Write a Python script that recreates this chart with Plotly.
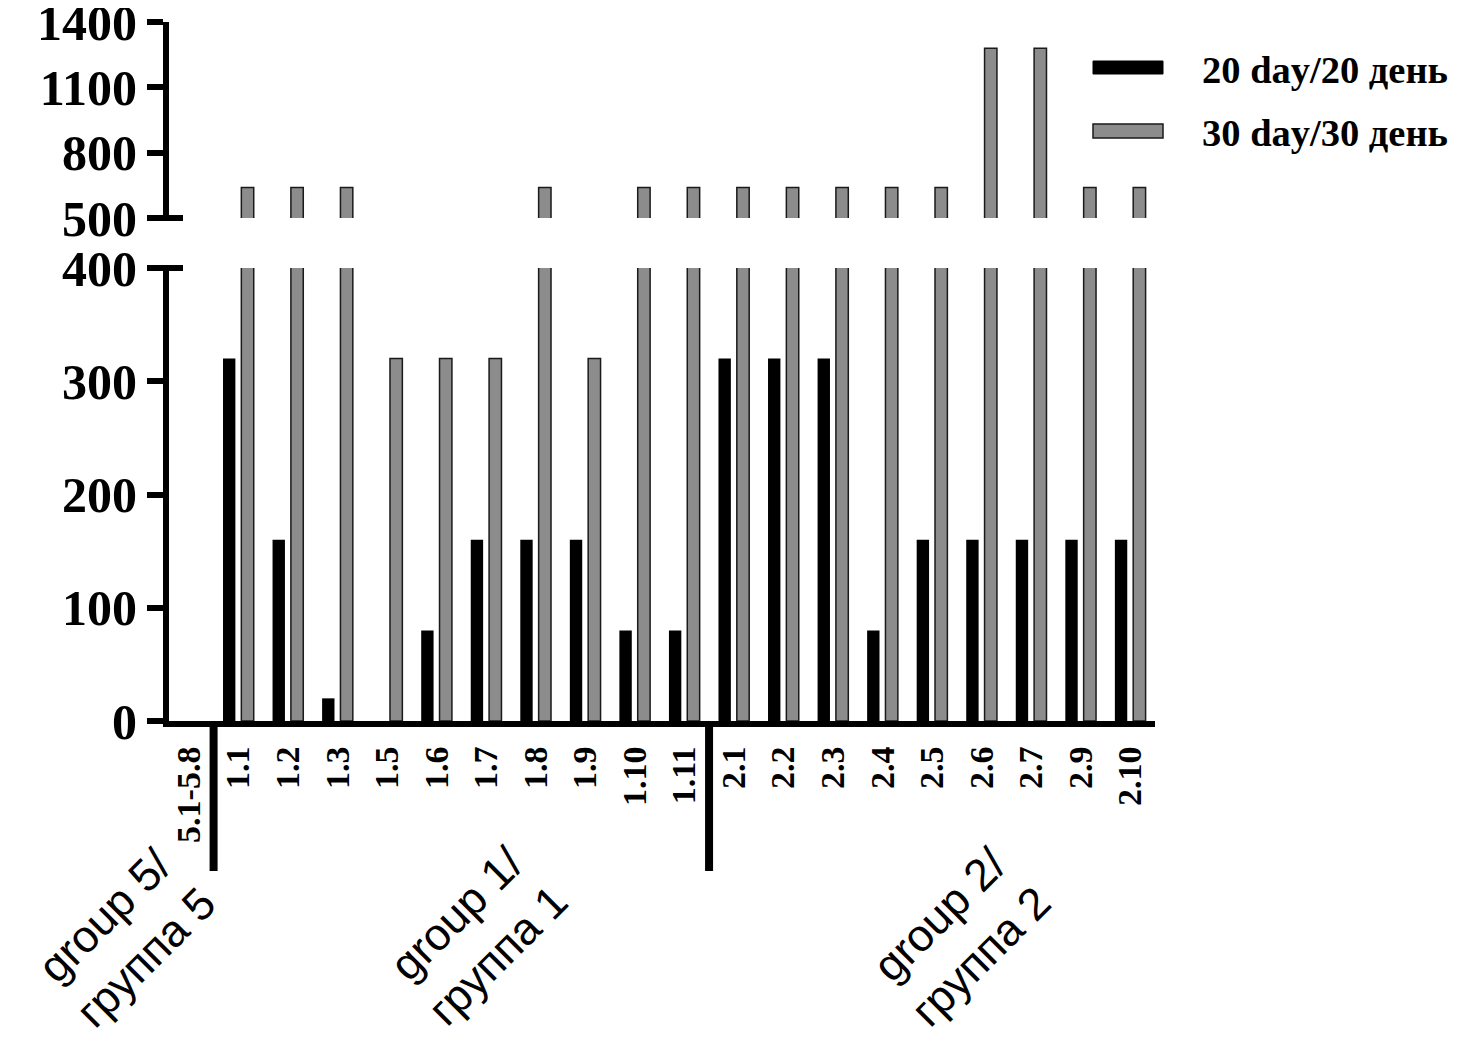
import plotly.graph_objects as go

# ---- data ----
categories = ["5.1-5.8", "1.1", "1.2", "1.3", "1.5", "1.6", "1.7", "1.8", "1.9", "1.10", "1.11",
              "2.1", "2.2", "2.3", "2.4", "2.5", "2.6", "2.7", "2.9", "2.10"]
day20 = [0, 320, 160, 20, 0, 80, 160, 160, 160, 80, 80, 320, 320, 320, 80, 160, 160, 160, 160, 160]
day30 = [0, 640, 640, 640, 320, 320, 320, 640, 320, 640, 640, 640, 640, 640, 640, 640, 1280, 1280, 640, 640]
series_names = ["20 day/20 день", "30 day/30 день"]
lower_ticks = [0, 100, 200, 300, 400]
upper_ticks = [500, 800, 1100, 1400]
group_labels = ["group 5/<br>группа 5", "group 1/<br>группа 1", "group 2/<br>группа 2"]
group_bounds = [0.5, 10.5]  # separators between groups (category units)

# ---- layout geometry (page pixels; the page body has an 8px margin) ----
OFS = 8
FW, FH = 1468 - 2 * OFS, 1047 - 2 * OFS
L, R, T, B = 169, 1155, 22, 721
W, H = R - L, B - T
XMIN, XMAX = -0.4, len(categories) - 0.5


def px(x):
    return (x - L) / W


def py(y):
    return (B - y) / H


D1 = py(268)   # top of lower segment
D2 = py(218)   # bottom of upper segment
LW = 6

serif = dict(family="Liberation Serif, Times New Roman, serif", color="black", weight="bold")
black = "#000000"
gray = "#8c8c8c"
gray_outline = [1.5 if v > 0 else 0 for v in day30]

fig = go.Figure()
for yax in ["y", "y2"]:
    fig.add_trace(go.Bar(x=categories, y=day20, yaxis=yax, name=series_names[0],
                         marker=dict(color=black, line=dict(color=black, width=0)),
                         width=0.25, offset=-0.31, showlegend=False, hoverinfo="skip"))
    fig.add_trace(go.Bar(x=categories, y=day30, yaxis=yax, name=series_names[1],
                         marker=dict(color=gray, line=dict(color="#1a1a1a", width=gray_outline)),
                         width=0.25, offset=0.06, showlegend=False, hoverinfo="skip"))

axis_common = dict(showline=True, linewidth=LW, linecolor="black", ticks="outside",
                   ticklen=16, tickwidth=LW, tickcolor="black", showgrid=False,
                   zeroline=False, automargin=False, ticklabeloverflow="allow",
                   tickfont=dict(size=50, **serif))

fig.update_layout(
    width=FW, height=FH,
    margin=dict(l=L - OFS, r=FW + OFS - R, t=T - OFS, b=FH + OFS - B, autoexpand=False),
    paper_bgcolor="white", plot_bgcolor="white",
    barmode="overlay",
    hovermode=False,
    showlegend=False,
    xaxis=dict(type="category", range=[XMIN, XMAX], showline=True,
               linewidth=LW, linecolor="black", ticks="", showgrid=False, zeroline=False,
               tickangle=-90, tickfont=dict(size=34, **serif), ticklabelstandoff=6,
               automargin=False, ticklabeloverflow="allow", anchor="y"),
    yaxis=dict(domain=[0, D1], range=[0, 400], tickvals=lower_ticks, anchor="x", **axis_common),
    yaxis2=dict(domain=[D2, 1], range=[500, 1400], tickvals=upper_ticks, anchor="x", **axis_common),
)

shapes = []
# axis break ticks (extend on both sides of the axis line)
for yy in [D1, D2]:
    shapes.append(dict(type="line", xref="paper", yref="paper", x0=px(149), x1=px(183),
                       y0=yy, y1=yy, line=dict(color="black", width=LW)))
# group separators
for b in group_bounds:
    xb = (b - XMIN) / (XMAX - XMIN)
    shapes.append(dict(type="line", xref="paper", yref="paper", x0=xb, x1=xb,
                       y0=py(726), y1=py(871), line=dict(color="black", width=8)))
# legend swatches
shapes.append(dict(type="rect", xref="paper", yref="paper", x0=px(1093), x1=px(1163),
                   y0=py(74), y1=py(61), fillcolor=black, line=dict(color=black, width=1)))
shapes.append(dict(type="rect", xref="paper", yref="paper", x0=px(1093), x1=px(1163),
                   y0=py(138), y1=py(124), fillcolor=gray, line=dict(color="#1a1a1a", width=1.5)))
fig.update_layout(shapes=shapes)

annotations = []
for name, yc in zip(series_names, [70, 133]):
    annotations.append(dict(xref="paper", yref="paper", x=px(1200), y=py(yc), text=name,
                            showarrow=False, xanchor="left", yanchor="middle",
                            font=dict(size=38.5, **serif)))
group_centers = [(125, 937), (477, 935), (960, 936)]
for lab, (cx, cy) in zip(group_labels, group_centers):
    annotations.append(dict(xref="paper", yref="paper", x=px(cx), y=py(cy), text=lab,
                            showarrow=False, xanchor="center", yanchor="middle", align="center",
                            textangle=-45,
                            font=dict(size=45, family="Liberation Sans, Arial, sans-serif",
                                      color="black")))
fig.update_layout(annotations=annotations)

fig.write_html("out.html")
